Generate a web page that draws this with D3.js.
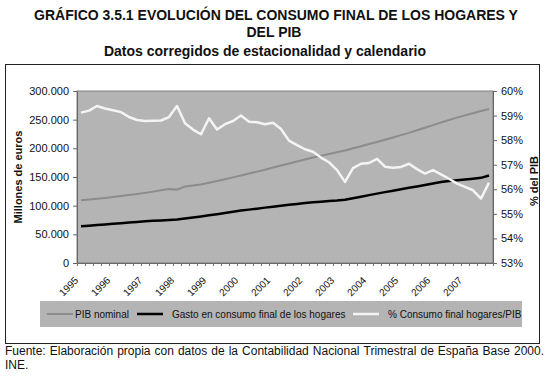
<!DOCTYPE html>
<html>
<head>
<meta charset="utf-8">
<script src="https://cdn.jsdelivr.net/npm/d3@7"></script>
<style>
body { margin: 0; background: #fff; }
svg { display: block; font-family: Arial, "Liberation Sans", sans-serif; }
</style>
</head>
<body>
<div id="chart"></div>
<script>
// años del eje (datos trimestrales 1995T1 - 2007T4)
var years = ["1995","1996","1997","1998","1999","2000","2001","2002","2003","2004","2005","2006","2007"];
var quarters = ["T1","T2","T3","T4"];
var categories = [];
years.forEach(function (y) { quarters.forEach(function (q) { categories.push(y + q); }); });

// PIB nominal, millones de euros
var pib = [109.5,110.8,112,113.3, 115,116.8,118.6,120.4, 122.3,124.5,126.7,129,
  128,133.5,135.3,137, 140,143,146,149.3, 152.6,156,159.4,162.8,
  166.5,170,173.5,177, 180.5,184,187,190, 193.3,196.3,200,203.7,
  207.5,211.2,215,219, 223,227,231.5,236, 240.5,245,249.5,253.5,
  257.5,261.3,265,268.5].map(function (d) { return d * 1000; });

// Gasto en consumo final de los hogares, millones de euros
var gasto = [64,65,66.1,67.2, 68.4,69.5,70.6,71.7, 72.8,73.5,74.3,75,
  75.7,77.5,79.3,81.2, 83.2,85.2,87.2,89.3, 91.4,93.1,94.8,96.6,
  98.3,99.9,101.5,103.1, 104.7,105.8,106.9,108, 109,110.4,113,115.7,
  118.4,121,123.6,126.1, 128.6,131.1,133.6,136.1, 138.6,141.1,143,144.5,
  145.8,147,148.5,152.6].map(function (d) { return d * 1000; });

// % consumo final hogares / PIB
var ratio = [59.12,59.20,59.39,59.29, 59.22,59.14,58.94,58.82, 58.78,58.79,58.80,58.94,
  59.39,58.69,58.43,58.24, 58.89,58.43,58.65,58.78, 59.00,58.75,58.73,58.65,
  58.71,58.45,57.98,57.80, 57.63,57.53,57.29,57.10, 56.78,56.30,56.86,57.04,
  57.07,57.24,56.92,56.88, 56.91,57.04,56.82,56.64, 56.78,56.61,56.43,56.23,
  56.10,55.96,55.62,56.27];

var leftTicks = [0, 50000, 100000, 150000, 200000, 250000, 300000];
var rightTicks = [0.53, 0.54, 0.55, 0.56, 0.57, 0.58, 0.59, 0.60];

var W = 550, H = 379;
var plot = { left: 77, right: 493, top: 91, bottom: 263 };
var bg = "#b4b4b4";

var svg = d3.select("#chart").append("svg")
  .attr("width", W)
  .attr("height", H);

svg.append("rect").attr("width", W).attr("height", H).attr("fill", "white");

// titulo
var title = svg.append("g").attr("font-weight", "bold").attr("text-anchor", "middle").attr("fill", "#111");
title.append("text").attr("x", 276).attr("y", 19.5).attr("font-size", 14)
  .text("GRÁFICO 3.5.1 EVOLUCIÓN DEL CONSUMO FINAL DE LOS HOGARES Y");
title.append("text").attr("x", 274).attr("y", 36.5).attr("font-size", 14).text("DEL PIB");
title.append("text").attr("x", 265).attr("y", 56).attr("font-size", 14)
  .text("Datos corregidos de estacionalidad y calendario");

// marco del grafico
svg.append("rect")
  .attr("x", 5.5).attr("y", 64.5).attr("width", 534).attr("height", 279)
  .attr("fill", "white").attr("stroke", "#222").attr("stroke-width", 1);

// escalas
var x = d3.scaleBand().domain(categories).range([plot.left, plot.right]).paddingInner(0).paddingOuter(0);
var xEdge = d3.scaleLinear().domain([0, categories.length]).range([plot.left, plot.right]);
var yL = d3.scaleLinear().domain([0, 300000]).range([plot.bottom, plot.top]);
var yR = d3.scaleLinear().domain([0.53, 0.60]).range([plot.bottom, plot.top]);
var cx = function (i) { return x(categories[i]) + x.bandwidth() / 2; };

// area de trazado
svg.append("rect")
  .attr("x", plot.left).attr("y", plot.top)
  .attr("width", plot.right - plot.left).attr("height", plot.bottom - plot.top)
  .attr("fill", bg).attr("stroke", "#808080").attr("stroke-width", 1);

// eje izquierdo
var fmt = function (d) { return d === 0 ? "0" : d3.format(",")(d).replace(/,/g, "."); };
var gl = svg.append("g").attr("transform", "translate(" + plot.left + ",0)")
  .call(d3.axisLeft(yL).tickValues(leftTicks).tickFormat(fmt).tickSizeInner(4).tickSizeOuter(0).tickPadding(4));
gl.select(".domain").attr("stroke", "#666");
gl.selectAll(".tick line").attr("stroke", "#666");
gl.selectAll("text").attr("font-size", 11).attr("font-family", "Arial, Liberation Sans, sans-serif").attr("fill", "#111");

// eje derecho
var gr = svg.append("g").attr("transform", "translate(" + plot.right + ",0)")
  .call(d3.axisRight(yR).tickValues(rightTicks).tickFormat(d3.format(".0%")).tickSizeInner(4).tickSizeOuter(0).tickPadding(4));
gr.select(".domain").attr("stroke", "#666");
gr.selectAll(".tick line").attr("stroke", "#666");
gr.selectAll("text").attr("font-size", 11).attr("font-family", "Arial, Liberation Sans, sans-serif").attr("fill", "#111");

// eje de categorias: marcas menores
var gx = svg.append("g").attr("transform", "translate(0," + plot.bottom + ")")
  .call(d3.axisBottom(xEdge).tickValues(d3.range(categories.length + 1)).tickFormat("").tickSizeInner(3).tickSizeOuter(0));
gx.select(".domain").attr("stroke", "#666");
gx.selectAll(".tick line").attr("stroke", "#777");

// etiquetas de años
svg.append("g").selectAll("text")
  .data(years)
  .enter().append("text")
  .attr("transform", function (d, i) { return "translate(" + (cx(i * 4) - 2) + ",281) rotate(-45)"; })
  .attr("text-anchor", "end")
  .attr("font-size", 10)
  .attr("fill", "#111")
  .text(function (d) { return d; });

// titulos de ejes
svg.append("text")
  .attr("transform", "translate(22,177) rotate(-90)")
  .attr("text-anchor", "middle").attr("font-size", 11).attr("font-weight", "bold").attr("fill", "#111")
  .text("Millones de euros");
svg.append("text")
  .attr("transform", "translate(538,181) rotate(-90)")
  .attr("text-anchor", "middle").attr("font-size", 11).attr("font-weight", "bold").attr("fill", "#111")
  .text("% del PIB");

// lineas
var lineL = d3.line().x(function (d, i) { return cx(i); }).y(function (d) { return yL(d); });
var lineR = d3.line().x(function (d, i) { return cx(i); }).y(function (d) { return yR(d / 100); });

svg.append("path").datum(pib).attr("d", lineL)
  .attr("fill", "none").attr("stroke", "#8c8c8c").attr("stroke-width", 2);
svg.append("path").datum(gasto).attr("d", lineL)
  .attr("fill", "none").attr("stroke", "#000").attr("stroke-width", 2.5);
svg.append("path").datum(ratio).attr("d", lineR)
  .attr("fill", "none").attr("stroke", "#f4f4f4").attr("stroke-width", 2.5).attr("stroke-linejoin", "round");

// leyenda
var legend = [
  { name: "PIB nominal", color: "#8c8c8c", w: 2, x0: 47, tx: 75 },
  { name: "Gasto en consumo final de los hogares", color: "#000", w: 2.5, x0: 137, tx: 172 },
  { name: "% Consumo final hogares/PIB", color: "#f4f4f4", w: 2.5, x0: 353, tx: 388 }
];
svg.append("rect").attr("x", 40).attr("y", 301).attr("width", 482).attr("height", 26).attr("fill", bg);
var lg = svg.append("g").selectAll("g").data(legend).enter().append("g");
lg.append("line")
  .attr("x1", function (d) { return d.x0; }).attr("x2", function (d) { return d.x0 + 26; })
  .attr("y1", 314).attr("y2", 314)
  .attr("stroke", function (d) { return d.color; }).attr("stroke-width", function (d) { return d.w; });
lg.append("text")
  .attr("x", function (d) { return d.tx; }).attr("y", 318)
  .attr("font-size", 10).attr("fill", "#111")
  .text(function (d) { return d.name; });

// fuente (justificada)
var fuente = "Fuente: Elaboración propia con datos de la Contabilidad Nacional Trimestral de España Base 2000.".split(" ");
var fg = svg.append("g").attr("font-size", 12).attr("fill", "#111");
var words = fg.selectAll("text").data(fuente).enter().append("text").attr("y", 355).text(function (d) { return d; });
var widths = [];
words.each(function () { widths.push(this.getComputedTextLength()); });
var gap = (544 - 5 - d3.sum(widths)) / (fuente.length - 1);
var pos = 5;
words.attr("x", function (d, i) { var p = pos; pos += widths[i] + gap; return p; });
fg.append("text").attr("x", 5).attr("y", 369).text("INE.");
</script>
</body>
</html>
